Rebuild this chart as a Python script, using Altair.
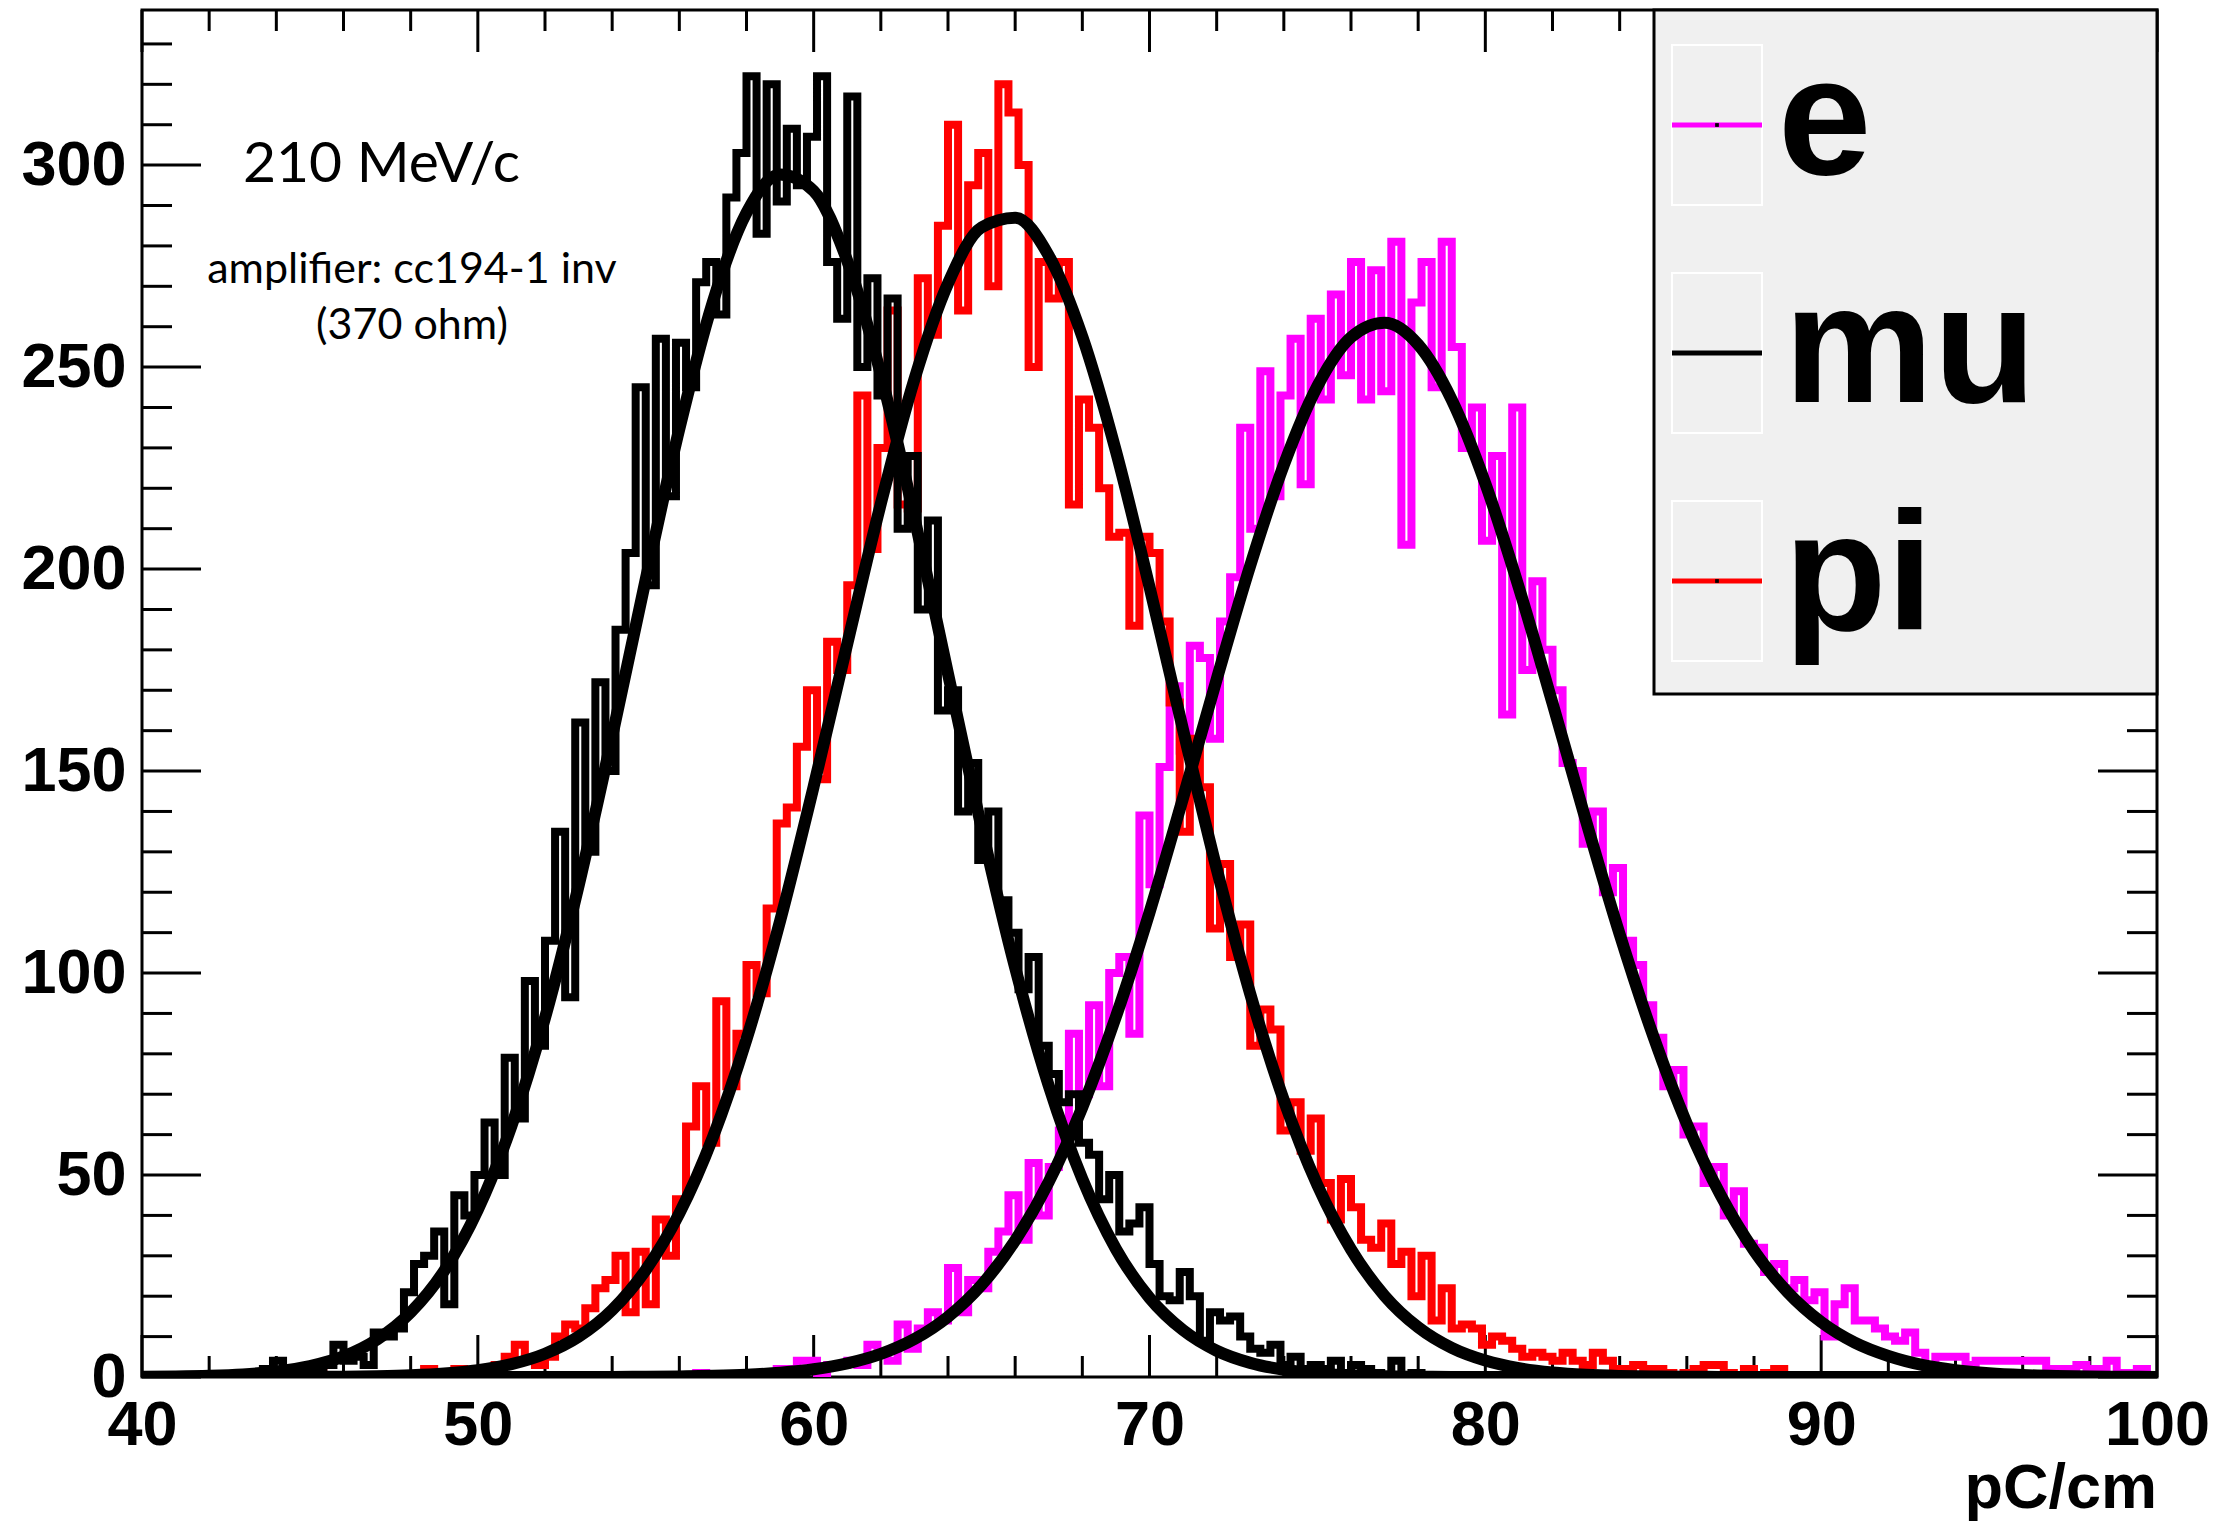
import altair as alt
import pandas as pd

# Histogram binning: 200 bins over 40-100 pC/cm
BIN_LO, BIN_HI, N_BINS = 40.0, 100.0, 200

# Bin contents, one value per bin (left to right)
MU_COUNTS = [
    0, 0, 0, 0, 0, 0, 0, 0, 0, 0,
    0, 1, 2, 4, 1, 1, 2, 2, 3, 8,
    4, 5, 3, 11, 10, 12, 21, 28, 30, 36,
    18, 45, 40, 50, 63, 50, 79, 64, 98, 82,
    108, 135, 94, 162, 130, 172, 150, 185, 204, 245,
    196, 257, 218, 256, 245, 271, 276, 263, 292, 303,
    322, 283, 320, 291, 309, 295, 307, 322, 276, 262,
    317, 250, 272, 243, 267, 210, 228, 190, 212, 165,
    170, 140, 152, 128, 140, 118, 110, 96, 104, 82,
    75, 68, 70, 58, 55, 44, 50, 36, 38, 42,
    28, 20, 19, 26, 20, 9, 16, 14, 15, 10,
    7, 6, 8, 3, 5, 2, 3, 2, 4, 1,
    3, 2, 1, 0, 4, 0, 1, 0, 0, 0,
    0, 0, 0, 0, 0, 0, 0, 0, 0, 0,
    0, 0, 0, 0, 0, 0, 0, 0, 0, 0,
    0, 0, 0, 0, 0, 0, 0, 0, 0, 0,
    0, 0, 0, 0, 0, 0, 0, 0, 0, 0,
    0, 0, 0, 0, 0, 0, 0, 0, 0, 0,
    0, 0, 0, 0, 0, 0, 0, 0, 0, 0,
    0, 0, 0, 0, 0, 0, 0, 0, 0, 0,
]

PI_COUNTS = [
    0, 0, 0, 0, 0, 0, 0, 0, 0, 0,
    0, 0, 0, 0, 0, 0, 0, 1, 0, 0,
    0, 0, 0, 0, 0, 0, 0, 0, 2, 0,
    1, 2, 0, 1, 1, 3, 5, 8, 4, 3,
    5, 10, 13, 12, 17, 22, 24, 30, 16, 31,
    18, 39, 30, 44, 62, 72, 58, 93, 72, 85,
    102, 95, 116, 137, 141, 156, 170, 148, 182, 175,
    196, 243, 205, 230, 264, 216, 215, 272, 258, 285,
    310, 264, 295, 303, 270, 320, 313, 300, 250, 276,
    267, 276, 216, 242, 235, 220, 208, 209, 186, 208,
    204, 187, 167, 135, 158, 146, 111, 127, 104, 112,
    82, 91, 86, 61, 68, 56, 64, 48, 39, 49,
    42, 34, 32, 38, 28, 31, 20, 30, 14, 22,
    12, 13, 12, 8, 10, 9, 7, 5, 6, 5,
    4, 6, 4, 3, 6, 4, 2, 2, 3, 2,
    2, 1, 0, 1, 2, 3, 3, 1, 0, 2,
    0, 1, 2, 0, 0, 0, 0, 0, 0, 0,
    0, 0, 0, 0, 0, 0, 0, 0, 0, 0,
    0, 0, 0, 0, 0, 0, 0, 0, 0, 0,
    0, 0, 0, 0, 0, 0, 0, 0, 0, 0,
]

E_COUNTS = [
    0, 0, 0, 0, 0, 0, 0, 0, 0, 0,
    0, 0, 0, 0, 0, 0, 0, 0, 0, 0,
    0, 0, 0, 0, 0, 0, 0, 0, 0, 0,
    0, 0, 0, 0, 0, 0, 0, 0, 0, 0,
    0, 0, 0, 0, 0, 0, 0, 0, 0, 0,
    0, 0, 0, 0, 0, 1, 0, 0, 0, 0,
    0, 1, 0, 2, 2, 4, 4, 1, 3, 3,
    4, 3, 8, 6, 4, 13, 7, 12, 16, 14,
    27, 16, 24, 22, 31, 36, 45, 34, 53, 40,
    52, 61, 85, 70, 92, 72, 100, 104, 85, 139,
    122, 151, 171, 155, 181, 178, 158, 187, 198, 235,
    210, 249, 218, 243, 257, 221, 262, 242, 268, 248,
    276, 242, 274, 244, 281, 206, 266, 276, 245, 281,
    255, 230, 240, 207, 228, 164, 240, 175, 197, 180,
    170, 152, 150, 132, 140, 120, 126, 108, 102, 92,
    84, 72, 76, 60, 62, 48, 52, 40, 46, 33,
    32, 26, 28, 22, 24, 19, 21, 10, 18, 22,
    14, 14, 12, 10, 9, 11, 6, 2, 5, 5,
    5, 3, 4, 4, 4, 4, 4, 4, 4, 2,
    2, 2, 3, 2, 2, 4, 1, 1, 2, 0,
]

# Fitted Gaussian curves, sampled at whole pC/cm values
FIT_X = list(range(40, 101))
MU_FIT = [
    0.05, 0.13, 0.3, 0.65, 1.36, 2.7, 5.1, 9.3, 16.0, 26.3,
    41.4, 62.1, 88.9, 121.6, 158.6, 197.5, 234.7, 266.2, 288.2, 297.7,
    293.6, 276.3, 248.2, 212.8, 174.1, 136.0, 101.3, 72.1, 49.0, 31.7,
    19.6, 11.6, 6.5, 3.5, 1.8, 0.88, 0.41, 0.18, 0.07, 0.03,
    0, 0, 0, 0, 0, 0, 0, 0, 0, 0,
    0, 0, 0, 0, 0, 0, 0, 0, 0, 0,
    0,
]
PI_FIT = [
    0, 0, 0, 0, 0.01, 0.04, 0.09, 0.2, 0.42, 0.86,
    1.7, 3.19, 5.77, 9.99, 16.6, 26.5, 40.5, 59.4, 83.6, 112.9,
    146.2, 181.5, 216.2, 247.0, 270.7, 284.6, 287.0, 277.6, 257.5, 229.2,
    195.6, 160.2, 125.8, 94.8, 68.5, 47.5, 31.6, 20.1, 12.3, 7.2,
    4.07, 2.19, 1.14, 0.56, 0.27, 0.12, 0.05, 0.02, 0, 0,
    0, 0, 0, 0, 0, 0, 0, 0, 0, 0,
    0,
]
E_FIT = [
    0, 0, 0, 0, 0, 0, 0, 0, 0, 0,
    0, 0, 0, 0, 0, 0.07, 0.14, 0.29, 0.56, 1.05,
    1.91, 3.37, 5.72, 9.39, 14.9, 22.8, 33.8, 48.3, 66.8, 89.2,
    115.0, 143.4, 172.7, 200.9, 225.8, 245.3, 257.4, 261.0, 255.6, 241.9,
    221.2, 195.4, 166.8, 137.6, 109.6, 84.4, 62.7, 45.1, 31.3, 21.0,
    13.6, 8.5, 5.2, 3.0, 1.7, 0.93, 0.49, 0.25, 0.12, 0.06,
    0.03,
]

X_TICKS_MAJOR = [40, 50, 60, 70, 80, 90, 100]
X_TICKS_MINOR = [v for v in range(42, 100, 2) if v % 10]
Y_TICKS_MAJOR = [0, 50, 100, 150, 200, 250, 300]
Y_TICKS_MINOR = [v for v in range(10, 340, 10) if v % 50]

SPECIES = ["e", "mu", "pi"]
COLORS = {"e": "#ff00ff", "mu": "#000000", "pi": "#ff0000"}

W, H = 2015, 1367
Y_TOP = 338.4
LABEL_FONT = "Liberation Sans"
TEXT_FONT = "Lato"

XS = alt.Scale(domain=[BIN_LO, BIN_HI], nice=False, zero=False)
YS = alt.Scale(domain=[0, Y_TOP], nice=False)
XAXIS = alt.Axis(values=X_TICKS_MAJOR, format="d", title=None, grid=False,
                 ticks=False, tickSize=0, domain=False, labelFlush=False,
                 labelOverlap=False, labelFont=LABEL_FONT, labelFontWeight="bold",
                 labelFontSize=63, labelColor="black", labelPadding=17)
YAXIS = alt.Axis(values=Y_TICKS_MAJOR, format="d", title=None, grid=False,
                 ticks=False, tickSize=0, domain=False, labelFlush=False,
                 labelOverlap=False, labelFont=LABEL_FONT, labelFontWeight="bold",
                 labelFontSize=63, labelColor="black", labelPadding=16)


def X(field):
    return alt.X(f"{field}:Q", scale=XS, axis=XAXIS)


def Y(field):
    return alt.Y(f"{field}:Q", scale=YS, axis=YAXIS)


bin_w = (BIN_HI - BIN_LO) / N_BINS
edges = [BIN_LO + i * bin_w for i in range(N_BINS + 1)]


def hist_layer(counts, name):
    df = pd.DataFrame({"x": edges, "y": list(counts) + [counts[-1]]})
    return alt.Chart(df).mark_line(
        interpolate="step-after", color=COLORS[name], strokeWidth=8,
        strokeJoin="miter", clip=True
    ).encode(x=X("x"), y=Y("y"))


def fit_layer(vals):
    df = pd.DataFrame({"x": FIT_X, "y": vals})
    return alt.Chart(df).mark_line(
        interpolate="monotone", color="black", strokeWidth=12,
        strokeJoin="round", clip=True
    ).encode(x=X("x"), y=Y("y"))


def x_ticks(vals, length):
    df = pd.DataFrame({"v": vals})
    bottom = alt.Chart(df).mark_rule(color="black", strokeWidth=3).encode(
        x=X("v"), y=alt.value(H), y2=alt.value(H - length))
    top = alt.Chart(df).mark_rule(color="black", strokeWidth=3).encode(
        x=X("v"), y=alt.value(0), y2=alt.value(length))
    return [bottom, top]


def y_ticks(vals, length):
    df = pd.DataFrame({"v": vals})
    left = alt.Chart(df).mark_rule(color="black", strokeWidth=3).encode(
        y=Y("v"), x=alt.value(0), x2=alt.value(length))
    right = alt.Chart(df).mark_rule(color="black", strokeWidth=3).encode(
        y=Y("v"), x=alt.value(W), x2=alt.value(W - length))
    return [left, right]


one = pd.DataFrame({"a": [0]})


def label(text, x, y, size, font=TEXT_FONT, weight="normal", align="left"):
    return alt.Chart(one).mark_text(
        text=text, font=font, fontSize=size, fontWeight=weight, align=align,
        baseline="alphabetic", color="black"
    ).encode(x=alt.value(x), y=alt.value(y))


layers = []
layers += x_ticks(X_TICKS_MAJOR, 42) + x_ticks(X_TICKS_MINOR, 21)
layers += y_ticks(Y_TICKS_MAJOR, 59) + y_ticks(Y_TICKS_MINOR, 30)

layers += [hist_layer(E_COUNTS, "e"), hist_layer(PI_COUNTS, "pi"),
           hist_layer(MU_COUNTS, "mu")]
layers += [fit_layer(E_FIT), fit_layer(PI_FIT), fit_layer(MU_FIT)]

# annotations
layers.append(label("210 MeV/c", 101, 172, 57))
layers.append(label("amplifier: cc194-1 inv", 270, 273, 43, align="center"))
layers.append(label("(370 ohm)", 270, 329, 43, align="center"))
layers.append(label("pC/cm", W, 1498, 63, font=LABEL_FONT, weight="bold",
                    align="right"))

# legend box
LEG_X0, LEG_Y1 = 1512, 684
layers.append(alt.Chart(one).mark_rect(
    fill="#f0f0f0", stroke="black", strokeWidth=3
).encode(x=alt.value(LEG_X0), x2=alt.value(W), y=alt.value(0),
         y2=alt.value(LEG_Y1)))

for i, name in enumerate(SPECIES):
    top = 35 + i * 228
    mid = top + 80
    layers.append(alt.Chart(one).mark_rect(
        fillOpacity=0, stroke="white", strokeWidth=2
    ).encode(x=alt.value(1530), x2=alt.value(1620), y=alt.value(top),
             y2=alt.value(top + 160)))
    layers.append(alt.Chart(one).mark_rule(
        color=COLORS[name], strokeWidth=5
    ).encode(x=alt.value(1530), x2=alt.value(1620), y=alt.value(mid)))
    layers.append(alt.Chart(one).mark_square(
        size=14, color="black", opacity=1
    ).encode(x=alt.value(1575), y=alt.value(mid)))
    layers.append(label(name, 1636 if name == "e" else 1642, mid + 49, 168,
                        font=LABEL_FONT, weight="bold"))

chart = alt.layer(*layers).properties(
    width=W, height=H,
    padding={"left": 142, "top": 10, "right": 69, "bottom": 146},
    autosize=alt.AutoSizeParams(type="none"),
    background="white",
).configure_view(stroke="black", strokeWidth=3)

chart.save("out.html", embed_options={"renderer": "svg", "actions": False})
